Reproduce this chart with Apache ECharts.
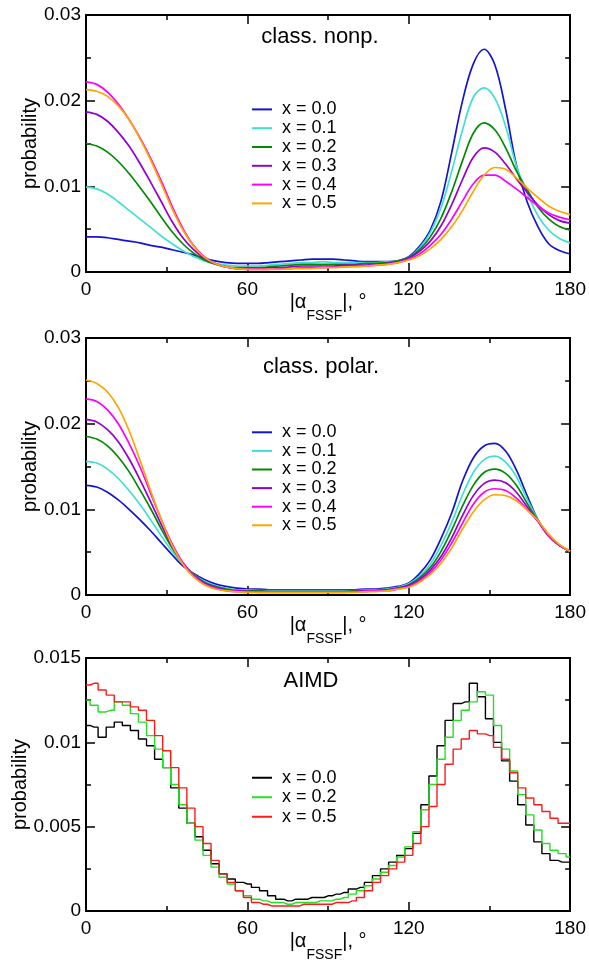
<!DOCTYPE html>
<html><head><meta charset="utf-8">
<script src="https://cdn.jsdelivr.net/npm/echarts@6/dist/echarts.min.js"></script>
<style>html,body{margin:0;padding:0;background:#fff}#c{width:589px;height:963px}</style>
</head><body><div id="c"></div>
<script>
// ---------- DATA ----------
const degClass = [0,4,8,12,16,20,24,28,32,36,40,44,48,52,56,60,64,68,72,76,80,84,88,92,96,100,104,108,112,116,120,124,128,132,136,140,144,148,152,156,160,164,168,172,176,180];
const degAIMD = [0,3,6,9,12,15,18,21,24,27,30,33,36,39,42,45,48,51,54,57,60,63,66,69,72,75,78,81,84,87,90,93,96,99,102,105,108,111,114,117,120,123,126,129,132,135,138,141,144,147,150,153,156,159,162,165,168,171,174,177,180];

const legendNamesClass = ['x = 0.0','x = 0.1','x = 0.2','x = 0.3','x = 0.4','x = 0.5'];
const legendNamesAIMD = ['x = 0.0','x = 0.2','x = 0.5'];
const panelTitles = ['class. nonp.','class. polar.','AIMD'];
const yTicksClass = [0, 0.01, 0.02, 0.03];
const yTicksAIMD = [0, 0.005, 0.01, 0.015];
const xTicks = [0, 60, 120, 180];

// class. nonp.
const nonp00 = [0.0041,0.0041,0.0040,0.0038,0.0036,0.0034,0.0031,0.0029,0.0026,0.0023,0.0020,0.0016,0.0013,0.0011,0.0010,0.0010,0.0010,0.0011,0.0012,0.0013,0.0014,0.0015,0.0015,0.0015,0.0014,0.0013,0.0012,0.0012,0.0012,0.0013,0.0018,0.0030,0.0049,0.0083,0.0140,0.0200,0.0243,0.0260,0.0242,0.0190,0.0125,0.0082,0.0053,0.0033,0.0025,0.0021];
const nonp01 = [0.0099,0.0097,0.0091,0.0082,0.0072,0.0062,0.0052,0.0042,0.0033,0.0025,0.0018,0.0013,0.0010,0.0008,0.0007,0.0007,0.0007,0.0008,0.0009,0.0010,0.0011,0.0011,0.0012,0.0011,0.0011,0.0011,0.0011,0.0011,0.0012,0.0013,0.0017,0.0028,0.0046,0.0075,0.0118,0.0166,0.0204,0.0215,0.0203,0.0170,0.0124,0.0092,0.0066,0.0049,0.0039,0.0034];
const nonp02 = [0.0150,0.0147,0.0140,0.0129,0.0115,0.0099,0.0082,0.0064,0.0047,0.0033,0.0022,0.0014,0.0009,0.0006,0.0005,0.0005,0.0005,0.0006,0.0007,0.0008,0.0009,0.0009,0.0009,0.0009,0.0009,0.0009,0.0010,0.0010,0.0011,0.0013,0.0017,0.0026,0.0041,0.0063,0.0094,0.0130,0.0162,0.0174,0.0166,0.0145,0.0118,0.0096,0.0076,0.0062,0.0053,0.0049];
const nonp03 = [0.0187,0.0184,0.0176,0.0163,0.0147,0.0127,0.0105,0.0082,0.0059,0.0040,0.0026,0.0016,0.0010,0.0006,0.0004,0.0004,0.0004,0.0005,0.0005,0.0006,0.0007,0.0007,0.0007,0.0007,0.0008,0.0008,0.0008,0.0009,0.0010,0.0012,0.0016,0.0024,0.0036,0.0054,0.0079,0.0108,0.0134,0.0145,0.0140,0.0126,0.0109,0.0093,0.0078,0.0067,0.0060,0.0057];
const nonp04 = [0.0222,0.0219,0.0210,0.0196,0.0178,0.0157,0.0133,0.0106,0.0077,0.0051,0.0031,0.0018,0.0010,0.0006,0.0004,0.0003,0.0003,0.0003,0.0004,0.0004,0.0005,0.0005,0.0005,0.0006,0.0006,0.0007,0.0007,0.0008,0.0009,0.0011,0.0015,0.0021,0.0031,0.0044,0.0062,0.0083,0.0103,0.0113,0.0113,0.0106,0.0097,0.0087,0.0077,0.0069,0.0064,0.0061];
const nonp05 = [0.0213,0.0211,0.0205,0.0194,0.0178,0.0156,0.0131,0.0103,0.0074,0.0049,0.0030,0.0017,0.0010,0.0006,0.0004,0.0003,0.0003,0.0003,0.0003,0.0004,0.0004,0.0004,0.0005,0.0005,0.0006,0.0006,0.0007,0.0008,0.0009,0.0011,0.0014,0.0019,0.0027,0.0038,0.0053,0.0072,0.0094,0.0113,0.0122,0.0120,0.0110,0.0098,0.0087,0.0077,0.0071,0.0067];

// class. polar.
const polar00 = [0.0128,0.0126,0.0120,0.0111,0.0100,0.0088,0.0075,0.0061,0.0047,0.0034,0.0025,0.0018,0.0013,0.0010,0.0008,0.0007,0.0007,0.0006,0.0006,0.0006,0.0006,0.0006,0.0006,0.0006,0.0006,0.0006,0.0007,0.0007,0.0008,0.0010,0.0014,0.0025,0.0041,0.0066,0.0096,0.0133,0.0160,0.0174,0.0177,0.0168,0.0146,0.0116,0.0088,0.0070,0.0058,0.0051];
const polar01 = [0.0156,0.0154,0.0147,0.0136,0.0122,0.0106,0.0088,0.0069,0.0051,0.0036,0.0024,0.0016,0.0011,0.0008,0.0006,0.0006,0.0005,0.0005,0.0005,0.0005,0.0005,0.0005,0.0005,0.0005,0.0005,0.0005,0.0006,0.0006,0.0007,0.0009,0.0013,0.0022,0.0036,0.0058,0.0085,0.0117,0.0143,0.0158,0.0162,0.0155,0.0138,0.0112,0.0088,0.0069,0.0058,0.0051];
const polar02 = [0.0185,0.0182,0.0174,0.0161,0.0144,0.0123,0.0101,0.0077,0.0055,0.0037,0.0024,0.0015,0.0010,0.0007,0.0005,0.0005,0.0005,0.0004,0.0004,0.0004,0.0004,0.0004,0.0004,0.0004,0.0004,0.0005,0.0005,0.0005,0.0006,0.0008,0.0012,0.0020,0.0032,0.0051,0.0076,0.0104,0.0128,0.0143,0.0147,0.0142,0.0128,0.0107,0.0087,0.0069,0.0058,0.0051];
const polar03 = [0.0205,0.0202,0.0193,0.0179,0.0159,0.0135,0.0109,0.0082,0.0057,0.0037,0.0023,0.0014,0.0009,0.0006,0.0005,0.0004,0.0004,0.0004,0.0004,0.0004,0.0004,0.0004,0.0004,0.0004,0.0004,0.0004,0.0005,0.0005,0.0006,0.0008,0.0011,0.0018,0.0029,0.0045,0.0067,0.0093,0.0116,0.0130,0.0134,0.0131,0.0120,0.0103,0.0086,0.0069,0.0058,0.0051];
const polar04 = [0.0229,0.0226,0.0216,0.0200,0.0177,0.0150,0.0119,0.0088,0.0060,0.0038,0.0023,0.0013,0.0008,0.0005,0.0004,0.0004,0.0003,0.0003,0.0003,0.0003,0.0003,0.0003,0.0003,0.0003,0.0003,0.0004,0.0004,0.0005,0.0005,0.0007,0.0010,0.0016,0.0026,0.0041,0.0061,0.0084,0.0106,0.0120,0.0124,0.0122,0.0113,0.0100,0.0086,0.0069,0.0058,0.0051];
const polar05 = [0.0251,0.0247,0.0237,0.0219,0.0192,0.0158,0.0122,0.0088,0.0058,0.0036,0.0021,0.0012,0.0007,0.0005,0.0004,0.0003,0.0003,0.0003,0.0003,0.0003,0.0003,0.0003,0.0003,0.0003,0.0003,0.0003,0.0004,0.0004,0.0005,0.0007,0.0009,0.0015,0.0024,0.0037,0.0055,0.0077,0.0097,0.0111,0.0117,0.0116,0.0110,0.0099,0.0087,0.0071,0.0059,0.0051];

// AIMD
const aimd00 = [0.0110,0.0109,0.0103,0.0109,0.0112,0.0110,0.0107,0.0102,0.0098,0.0090,0.0085,0.0073,0.0061,0.0052,0.0044,0.0036,0.0028,0.0022,0.0019,0.0017,0.0016,0.0014,0.0012,0.0009,0.0007,0.0006,0.0007,0.0007,0.0008,0.0008,0.0009,0.0010,0.0011,0.0013,0.0014,0.0017,0.0021,0.0025,0.0029,0.0033,0.0037,0.0046,0.0063,0.0080,0.0098,0.0113,0.0123,0.0124,0.0135,0.0127,0.0114,0.0100,0.0089,0.0077,0.0063,0.0051,0.0041,0.0034,0.0030,0.0029,0.0029];
const aimd02 = [0.0125,0.0122,0.0118,0.0119,0.0124,0.0122,0.0117,0.0112,0.0104,0.0096,0.0085,0.0075,0.0063,0.0052,0.0042,0.0033,0.0026,0.0020,0.0016,0.0012,0.0009,0.0007,0.0006,0.0005,0.0005,0.0004,0.0005,0.0005,0.0005,0.0006,0.0006,0.0007,0.0008,0.0010,0.0012,0.0015,0.0019,0.0023,0.0027,0.0032,0.0038,0.0047,0.0060,0.0075,0.0090,0.0103,0.0113,0.0119,0.0124,0.0130,0.0128,0.0110,0.0096,0.0083,0.0069,0.0057,0.0048,0.0040,0.0036,0.0034,0.0032];
const aimd05 = [0.0134,0.0135,0.0131,0.0128,0.0124,0.0124,0.0121,0.0119,0.0113,0.0104,0.0095,0.0085,0.0073,0.0061,0.0050,0.0040,0.0030,0.0022,0.0017,0.0012,0.0008,0.0005,0.0004,0.0003,0.0003,0.0003,0.0003,0.0004,0.0004,0.0004,0.0004,0.0005,0.0005,0.0006,0.0008,0.0012,0.0017,0.0021,0.0025,0.0029,0.0033,0.0040,0.0050,0.0062,0.0075,0.0087,0.0096,0.0102,0.0107,0.0105,0.0104,0.0097,0.0090,0.0082,0.0073,0.0067,0.0063,0.0059,0.0055,0.0052,0.0052];

// ---------- STYLE ----------
const FONT = '"Liberation Sans", Arial, Helvetica, sans-serif';
const classColors = ['#1414d2','#40e0d0','#008b00','#9400d3','#ff00ff','#ffa500'];
const aimdColors = ['#000000','#22e022','#ff1a1a'];
const gridTops = [15, 338, 658];
const GRID_LEFT = 86, GRID_W = 488, GRID_H = 257;

const zip = (xs, ys) => xs.map((x, i) => [x, ys[i]]);
const panels = [
  { series: [nonp00, nonp01, nonp02, nonp03, nonp04, nonp05], x: degClass, names: legendNamesClass, colors: classColors, yTicks: yTicksClass, step: false, yGap: 46 },
  { series: [polar00, polar01, polar02, polar03, polar04, polar05], x: degClass, names: legendNamesClass, colors: classColors, yTicks: yTicksClass, step: false, yGap: 46 },
  { series: [aimd00, aimd02, aimd05], x: degAIMD, names: legendNamesAIMD, colors: aimdColors, yTicks: yTicksAIMD, step: true, yGap: 56 }
];

const grid = [], xAxis = [], yAxis = [], series = [], legend = [], graphic = [];
const legendTops = [95, 418, 763];
const legendRowH = [18.8, 18.6, 19.5];

function axisCommon(showLabel) {
  return {
    axisLine: { show: true, onZero: false, lineStyle: { color: '#000', width: 2 } },
    axisTick: { show: true, inside: true, length: 9, lineStyle: { color: '#000', width: 1.5 } },
    minorTick: { show: true, splitNumber: 2, length: 5, lineStyle: { color: '#000', width: 1.5 } },
    splitLine: { show: false }, minorSplitLine: { show: false },
    axisLabel: { show: showLabel, color: '#000', fontSize: 19, fontFamily: FONT }
  };
}

panels.forEach((p, k) => {
  grid.push({ left: GRID_LEFT, top: gridTops[k], width: GRID_W, height: GRID_H, containLabel: false });
  const yt = p.yTicks;
  const xb = Object.assign({ type: 'value', gridIndex: k, position: 'bottom', min: xTicks[0], max: xTicks[xTicks.length - 1], interval: xTicks[1] - xTicks[0] }, axisCommon(true));
  xb.axisLabel.margin = 8;
  xb.name = '{a||α}{b|FSSF}{a||, °}';
  xb.nameLocation = 'middle';
  xb.nameGap = 20;
  xb.nameMoveOverlap = false;
  xb.nameTextStyle = { color: '#000', fontFamily: FONT, rich: {
    a: { fontSize: 20, fontFamily: FONT, color: '#000', lineHeight: 24, verticalAlign: 'top' },
    b: { fontSize: 14, fontFamily: FONT, color: '#000', lineHeight: 14, padding: [17, 0, 0, 0], verticalAlign: 'top' }
  } };
  const xt = Object.assign({ type: 'value', gridIndex: k, position: 'top', min: xTicks[0], max: xTicks[xTicks.length - 1], interval: xTicks[1] - xTicks[0] }, axisCommon(false));
  xAxis.push(xb, xt);
  const yl = Object.assign({ type: 'value', gridIndex: k, position: 'left', min: yt[0], max: yt[yt.length - 1], interval: yt[1] - yt[0] }, axisCommon(true));
  yl.axisLabel.margin = 5;
  yl.axisLabel.formatter = v => (Math.abs(v) < 1e-12 ? '0' : String(+v.toFixed(4)));
  yl.name = 'probability';
  yl.nameLocation = 'middle';
  yl.nameGap = p.yGap;
  yl.nameMoveOverlap = false;
  yl.nameTextStyle = { color: '#000', fontSize: 20, fontFamily: FONT };
  const yr = Object.assign({ type: 'value', gridIndex: k, position: 'right', min: yt[0], max: yt[yt.length - 1], interval: yt[1] - yt[0] }, axisCommon(false));
  yAxis.push(yl, yr);

  p.series.forEach((vals, i) => {
    series.push({
      type: 'line', name: p.names[i], xAxisIndex: 2 * k, yAxisIndex: 2 * k,
      data: zip(p.x, vals), symbol: 'none', showSymbol: false,
      smooth: p.step ? false : 0.35, step: p.step ? 'middle' : false,
      lineStyle: { color: p.colors[i], width: p.step ? 1.4 : 1.7 },
      itemStyle: { color: p.colors[i] },
      z: 2 + i, silent: true
    });
  });

  legend.push({
    left: 247, top: legendTops[k], orient: 'vertical',
    itemWidth: 20, itemHeight: 2, itemGap: 0,
    selectedMode: false,
    textStyle: { color: '#000', fontSize: 18, lineHeight: legendRowH[k], fontFamily: FONT, padding: [0, 0, 0, 5] },
    data: p.names.map((n, i) => ({ name: n, icon: 'rect', itemStyle: { color: p.colors[i], borderWidth: 0 }, lineStyle: { color: p.colors[i] } }))
  });
});

const titleX = [320, 321, 311];
const titleY = [37, 367, 681];
panelTitles.forEach((t, k) => {
  graphic.push({ type: 'text', x: titleX[k], y: titleY[k], style: { text: t, font: '22px ' + FONT, fill: '#000', align: 'center', verticalAlign: 'middle', textAlign: 'center', textVerticalAlign: 'middle' } });
});

const chart = echarts.init(document.getElementById('c'), null, { renderer: 'canvas' });
chart.setOption({ animation: false, backgroundColor: '#fff', grid, xAxis, yAxis, series, legend, graphic });
</script></body></html>
